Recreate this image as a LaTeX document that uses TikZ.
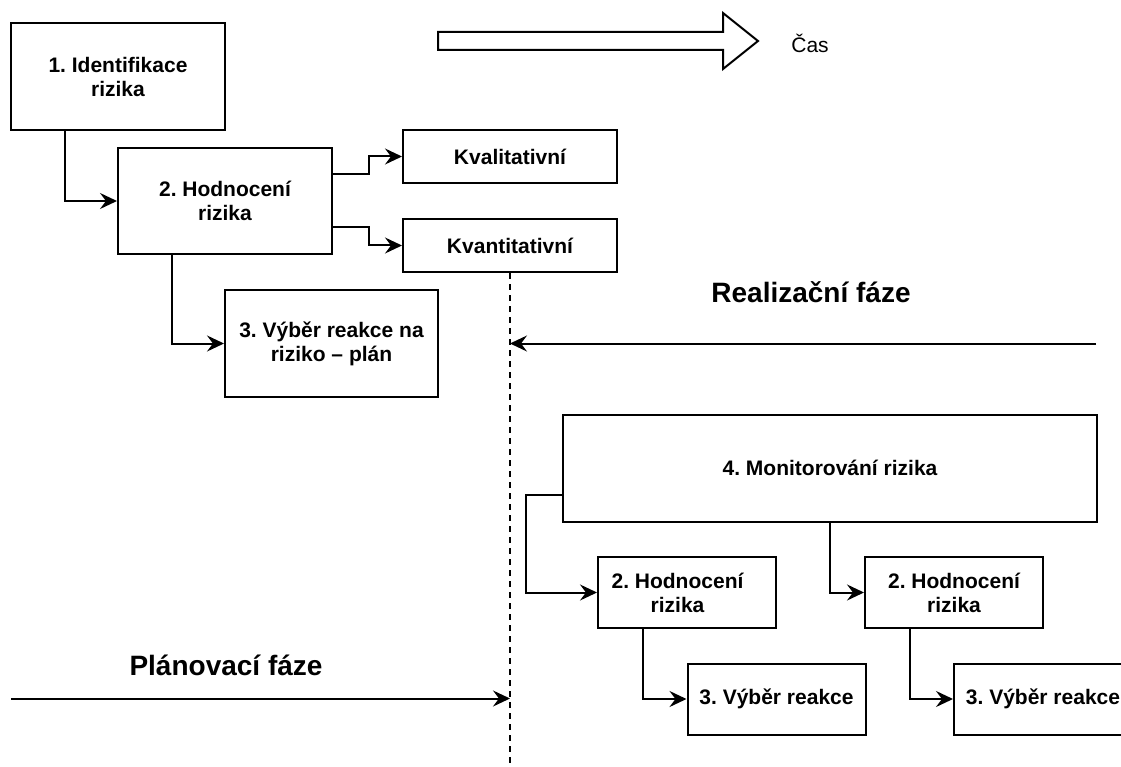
\documentclass[tikz,border=0pt]{standalone}
\usepackage{fontspec}
\setmainfont{Liberation Sans}
\usetikzlibrary{arrows.meta,calc}
\frenchspacing
\tikzset{
  box/.style={draw=black, line width=2pt, inner sep=0pt, align=center,
    font=\frenchspacing\bfseries\fontsize{21}{24}\selectfont},
  arr/.style={draw=black, line width=2pt, -{Stealth[length=17pt,width=16pt,inset=6pt]}},
  phase/.style={font=\bfseries\fontsize{28}{32}\selectfont, inner sep=0pt},
  plain/.style={font=\fontsize{21}{24}\selectfont, inner sep=0pt},
  divider/.style={draw=black, line width=1.6pt, dash pattern=on 6pt off 5pt},
  timearrow/.style={draw=black, line width=2pt, fill=white}
}
\begin{document}
\begin{tikzpicture}[x=1pt,y=-1pt]
\useasboundingbox (0,0) rectangle (1121,767);
\fill[white] (0,0) rectangle (1121,767);
\clip (0,0) rectangle (1121,767);

% time arrow
\draw[timearrow] (438,32) -- (723,32) -- (723,13) -- (758,41) -- (723,69) -- (723,50) -- (438,50) -- cycle;
\node[plain] (cas) at (810,43) {Čas};

% planning phase boxes
\node[box, minimum width=214pt, minimum height=107pt] (b1) at (118,76.5) {1. Identifikace\\rizika};
\node[box, minimum width=214pt, minimum height=106pt] (b2) at (225,201) {2. Hodnocení\\rizika};
\node[box, minimum width=214pt, minimum height=53pt] (kval) at (510,156.5) {Kvalitativní};
\node[box, minimum width=214pt, minimum height=53pt] (kvant) at (510,245.5) {Kvantitativní};
\node[box, minimum width=213pt, minimum height=107pt] (b3) at (331.5,343.5) {3. Výběr reakce na\\riziko – plán};

\draw[arr] ([xshift=-53.5pt]b1.south) |- (b2.west);
\draw[arr] ([yshift=26.5pt]b2.east) -- ++(35.5,0) |- (kval.west);
\draw[arr] ([yshift=-26.5pt]b2.east) -- ++(35.5,0) |- (kvant.west);
\draw[arr] ([xshift=-53.5pt]b2.south) |- (b3.west);

% divider
\coordinate (dend) at (510,767);
\draw[divider] (kvant.south) -- (dend);

% phase labels and arrows
\node[phase] (real) at (811,292) {Realizační fáze};
\coordinate (rstart) at (1096,343.5);
\draw[arr] (rstart) -- (rstart -| kvant.south);

\node[phase] (plan) at (226,665) {Plánovací fáze};
\coordinate (pstart) at (11,698.5);
\draw[arr] (pstart) -- (pstart -| kvant.south);

% realization phase boxes
\node[box, minimum width=534pt, minimum height=107pt] (b4) at (830,468) {4. Monitorování rizika};
\node[box, minimum width=178pt, minimum height=71pt] (h1) at (687,592.5) {2. Hodnocení\hspace*{19pt}\\rizika\hspace*{19pt}};
\node[box, minimum width=178pt, minimum height=71pt] (h2) at (954,592.5) {2. Hodnocení\\rizika};
\node[box, minimum width=178pt, minimum height=71pt] (r1) at (776.5,699) {3. Výběr reakce};
\node[box, minimum width=178pt, minimum height=71pt] (r2) at (1043,699) {3. Výběr reakce};

\draw[arr] ([yshift=-26.5pt]b4.west) -- ++(-36,0) |- (h1.west);
\draw[arr] (b4.south) |- (h2.west);
\draw[arr] ([xshift=-44.5pt]h1.south) |- (r1.west);
\draw[arr] ([xshift=-44.5pt]h2.south) |- (r2.west);
\end{tikzpicture}
\end{document}
